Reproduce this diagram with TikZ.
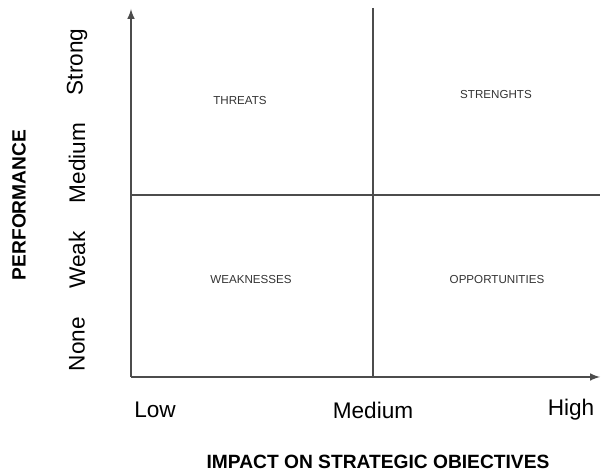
\documentclass[tikz,border=0pt]{standalone}
\usepackage{fontspec}
\setmainfont{Liberation Sans}
\usetikzlibrary{positioning}

\begin{document}
\begin{tikzpicture}[x=0.5pt, y=-0.5pt,
    trait/.style={draw=black!70, line width=0.7pt},
    quadrant/.style={font=\fontsize{5.8}{7}\selectfont, text=black!80, inner sep=0},
    niveau/.style={font=\fontsize{11.3}{13}\selectfont, inner sep=0},
    titre/.style={font=\fontsize{9.6}{11}\selectfont\bfseries, inner sep=0}]
      \useasboundingbox (0,0) rectangle (601,474);

      \coordinate (origine) at (131,377);
      \coordinate (haut) at (131,9);
      \coordinate (droite) at (600,377);
      \coordinate (milieuhaut) at (373,8);
      \coordinate (milieubas) at (373,377);
      \coordinate (gauche) at (131,195);
      \coordinate (bord) at (600,195);

      % Axes
      \draw[trait, -latex] (origine) -- (haut);
      \draw[trait, -latex] (origine) -- (droite);

      % Separations
      \draw[trait] (milieuhaut) -- (milieubas);
      \draw[trait] (gauche) -- (bord);

      % Quadrants
      \node[quadrant] (threats) at (240,101) {THREATS};
      \node[quadrant] (strenghts) at (496,95) {STRENGHTS};
      \node[quadrant] (weaknesses) at (251,280) {WEAKNESSES};
      \node[quadrant] (opportunities) at (497,280) {OPPORTUNITIES};

      % Niveaux de performance
      \foreach \y/\niveau in {62/Strong, 163/Medium, 260/Weak, 344/None} {
        \node[niveau, rotate=90] (perf\niveau) at (77,\y) {\niveau};
      }
      \node[titre, rotate=90] (performance) at (19,205) {PERFORMANCE};

      % Niveaux d'impact
      \foreach \x/\niveau in {155/Low, 373/Medium, 571/High} {
        \node[niveau] (impact\niveau) at (\x,410) {\niveau};
      }
      \node[titre] (impact) at (378,462) {IMPACT ON STRATEGIC OBIECTIVES};
    \end{tikzpicture}
\end{document}
